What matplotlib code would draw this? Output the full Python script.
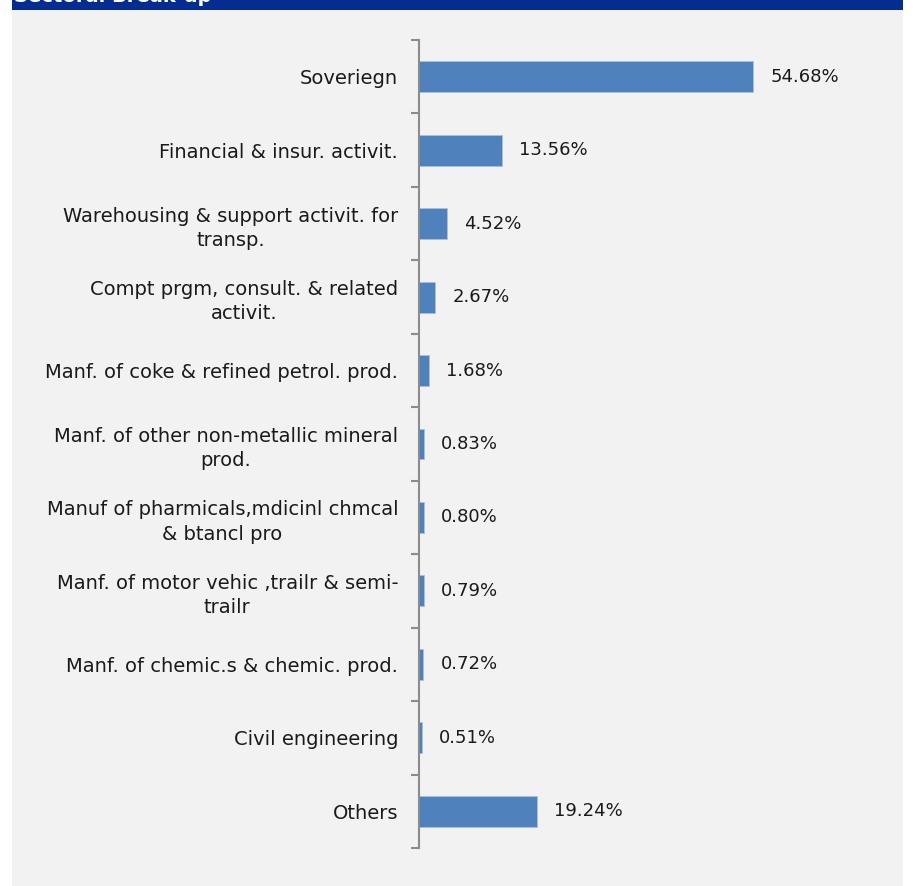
import matplotlib.pyplot as plt
from matplotlib.patches import Rectangle

# sector shares of the portfolio, top to bottom
sectors = [
    "Soveriegn",
    "Financial & insur. activit.",
    "Warehousing & support activit. for\ntransp.",
    "Compt prgm, consult. & related\nactivit.",
    "Manf. of coke & refined petrol. prod.",
    "Manf. of other non-metallic mineral\nprod.",
    "Manuf of pharmicals,mdicinl chmcal\n& btancl pro",
    "Manf. of motor vehic ,trailr & semi-\ntrailr",
    "Manf. of chemic.s & chemic. prod.",
    "Civil engineering",
    "Others",
]
shares = [54.68, 13.56, 4.52, 2.67, 1.68, 0.83, 0.80, 0.79, 0.72, 0.51, 19.24]

W, H = 914, 886
fig = plt.figure(figsize=(W / 100, H / 100), dpi=100)
fig.patch.set_facecolor("white")

# grey panel and the blue header strip
fig.patches.append(Rectangle((12 / W, 0), (903 - 12) / W, 1 - 10 / H,
                             transform=fig.transFigure, facecolor="#f2f2f2",
                             edgecolor="none", zorder=-2))
fig.patches.append(Rectangle((12 / W, 1 - 10 / H), (903 - 12) / W, 10 / H,
                             transform=fig.transFigure, facecolor="#052d91",
                             edgecolor="none", zorder=-2))
fig.text(14 / W, 1 - 2 / H, "Sectoral Break-up", color="white",
         fontsize=14, fontweight="bold", va="baseline", ha="left")

ax = fig.add_axes([419 / W, 38 / H, 428 / W, 1 - 78 / H])
ax.set_facecolor("none")
ax.set_zorder(1)

pos = list(range(len(sectors)))
ax.barh(pos, shares, height=0.42, color="#4f81bd",
        edgecolor="#a9c1e0", linewidth=0.6)
ax.set_xlim(0, 70)
ax.set_ylim(len(sectors) - 0.5, -0.5)

for p, v in zip(pos, shares):
    ax.annotate(f"{v:.2f}%", (v, p), xytext=(17, 0), textcoords="offset pixels",
                va="center", ha="left", fontsize=13, color="#1a1a1a")

ax.set_yticks(pos)
ax.set_yticklabels(sectors, fontsize=14, color="#1a1a1a",
                   multialignment="center", linespacing=1.35)
ax.tick_params(axis="y", which="major", length=0, pad=15)
ax.set_yticks([p - 0.5 for p in pos] + [len(sectors) - 0.5], minor=True)
ax.tick_params(axis="y", which="minor", length=6, width=1.5, color="#8c8c8c")
ax.set_xticks([])

for s in ["top", "right", "bottom"]:
    ax.spines[s].set_visible(False)
ax.spines["left"].set_color("#8c8c8c")
ax.spines["left"].set_linewidth(1.5)

fig.savefig("out.png", dpi=100)
